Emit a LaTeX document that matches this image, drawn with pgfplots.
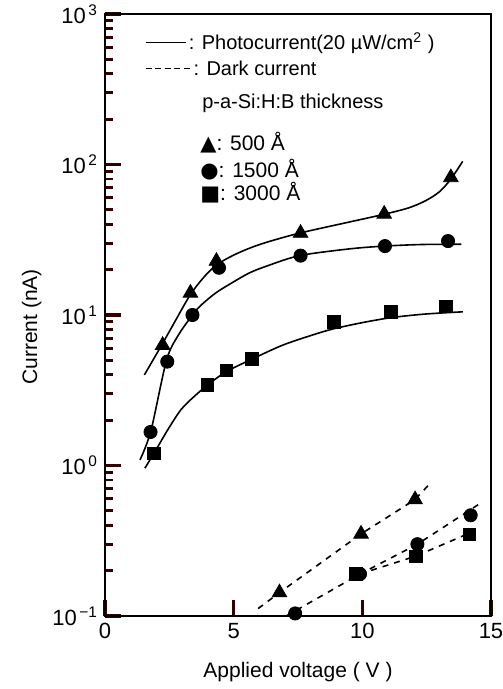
\documentclass[border=0pt]{standalone}
\usepackage{fontspec}
\setmainfont{Liberation Sans}
\newfontfamily\symfont{DejaVu Sans}
\usepackage{xcolor}
\usepackage{pgfplots}
\pgfplotsset{compat=1.18}

\colorlet{tickc}{black!80!red}

% short dash used in the legend text
\newcommand{\dsh}{\rule[0.3em]{3pt}{0.7pt}\hspace{1.8pt}}

\begin{document}
\begin{tikzpicture}
\begin{axis}[
    scale only axis,
    width=193pt, height=301pt,
    xmin=0, xmax=15,
    ymin=0.1, ymax=1000,
    ymode=log,
    xtick={0,5,10,15},
    ytick={0.1,1,10,100,1000},
    yticklabels={10\textsuperscript{\,−1},10\textsuperscript{\,0},10\textsuperscript{\,1},10\textsuperscript{\,2},10\textsuperscript{\,3}},
    minor ytick={0.2,0.3,0.4,0.5,0.6,0.7,0.8,0.9,2,3,4,5,6,7,8,9,20,30,40,50,60,70,80,90,200,300,400,500,600,700,800,900},
    tick align=inside,
    xtick pos=left, ytick pos=left,
    major tick length=8pt, minor tick length=4pt,
    major tick style={tickc, line width=1.8pt},
    minor tick style={tickc, line width=1.4pt},
    axis line style={line width=1pt},
    /pgf/number format/assume math mode=true,
    tick label style={font=\fontsize{11}{13}\selectfont},
    xlabel={Applied voltage ( V )},
    ylabel={Current (nA)},
    label style={font=\fontsize{10.5}{12}\selectfont},
    xlabel style={at={(axis description cs:0.5,-0.093)}, anchor=center},
    ylabel style={at={(axis description cs:-0.19,0.48)}, anchor=center},
]

% photocurrent curves (solid)
\addplot[black, line width=0.8pt, smooth, no markers] coordinates {
(1.53,4.0) (2.2,6.3) (2.71,9.0) (3.3,13.5) (3.8,17.5) (4.33,21.5) (5.0,25.0) (5.62,27.8) (6.3,30.5) (7.56,35) (9.5,41.5) (10.8,46.5) (11.8,51.5) (12.47,57.6) (13.0,66) (13.44,80) (13.9,105)
};
\addplot[black, line width=0.8pt, smooth, no markers] coordinates {
(1.36,1.09) (1.78,1.69) (2.39,5.0) (2.84,7.3) (3.38,9.9) (3.68,11.4) (4.3,14.0) (4.97,16.5) (5.6,19.0) (6.27,21.1) (7.56,24.8) (9.5,27.5) (10.85,28.7) (12.3,29.4) (13.85,29.5)
};
\addplot[black, line width=0.8pt, smooth, no markers] coordinates {
(1.55,0.96) (1.91,1.21) (2.45,1.74) (2.97,2.37) (3.49,2.9) (3.98,3.42) (4.71,4.2) (5.72,5.1) (6.9,6.3) (8.1,7.4) (8.89,8.1) (10.0,8.9) (11.11,9.6) (12.3,10.1) (13.24,10.35) (13.91,10.5)
};

% dark current lines (dashed)
\addplot[black, line width=0.8pt, dash pattern=on 3pt off 3pt] coordinates {
(5.95,0.112) (6.78,0.143) (9.95,0.351) (12.05,0.594) (12.6,0.75)
};
\addplot[black, line width=0.8pt, dash pattern=on 3pt off 3pt] coordinates {
(7.04,0.10) (9.91,0.19) (12.14,0.30) (14.53,0.553)
};
\addplot[black, line width=0.8pt, dash pattern=on 3pt off 3pt] coordinates {
(9.9,0.19) (12.08,0.25) (14.4,0.37)
};

% measured points
\addplot[only marks, black, mark=triangle*, mark size=4.2pt] coordinates {
(2.24,6.3) (3.32,14.0) (4.33,22.8) (7.6,35) (10.85,46.9) (13.44,82)
(6.78,0.143) (9.95,0.351) (12.05,0.594)
};
\addplot[only marks, black, mark=*, mark size=3.3pt] coordinates {
(1.77,1.67) (2.42,4.9) (3.40,10.0) (4.43,20.6) (7.6,24.8) (10.88,28.7) (13.33,31)
(7.39,0.104) (9.91,0.19) (12.14,0.30) (14.21,0.467)
};
\addplot[only marks, black, mark=square*, mark size=3.1pt] coordinates {
(1.90,1.20) (3.98,3.44) (4.71,4.27) (5.71,5.12) (8.89,9.0) (11.11,10.5) (13.24,11.4)
(9.75,0.19) (12.08,0.25) (14.15,0.35)
};

% legend text
\node[anchor=west, font=\fontsize{10}{12}\selectfont, inner sep=0pt] at (axis description cs:0.104,0.952)
  {\rule[0.3em]{20pt}{0.8pt}\,: Photocurrent(20 µW/cm\textsuperscript{2} )};
\node[anchor=west, font=\fontsize{10}{12}\selectfont, inner sep=0pt] at (axis description cs:0.104,0.910)
  {\dsh\dsh\dsh\dsh\dsh: Dark current};
\node[anchor=west, font=\fontsize{10}{12}\selectfont, inner sep=0pt] at (axis description cs:0.251,0.852)
  {p-a-Si:H:B thickness};
\node[anchor=west, font=\fontsize{10.5}{12}\selectfont, inner sep=0pt] at (axis description cs:0.246,0.786)
  {{\symfont ▲}: 500 Å};
\node[anchor=west, font=\fontsize{10.5}{12}\selectfont, inner sep=0pt] at (axis description cs:0.246,0.741)
  {{\symfont ●}: 1500 Å};
\node[anchor=west, font=\fontsize{10.5}{12}\selectfont, inner sep=0pt] at (axis description cs:0.246,0.704)
  {{\symfont ■}: 3000 Å};
\end{axis}
\pgfresetboundingbox
\path[use as bounding box] ([xshift=-52.5pt,yshift=-36.5pt]current axis.south west) rectangle ([xshift=6pt,yshift=7pt]current axis.north east);
\end{tikzpicture}
\end{document}
